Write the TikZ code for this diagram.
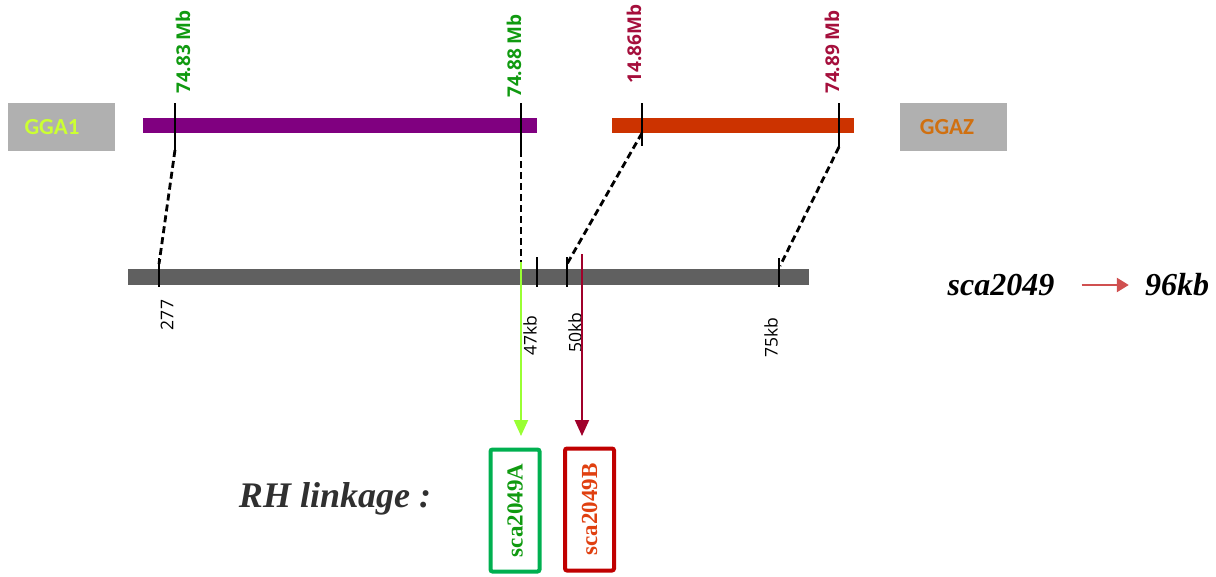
\documentclass[tikz,border=0pt]{standalone}
\usepackage{fontspec}
\setmainfont{Liberation Serif}
\newfontfamily\osans{Open Sans}
\newfontfamily\carl{Carlito}
\usetikzlibrary{arrows.meta}
\definecolor{gbox}{HTML}{B0B0B0}
\definecolor{ggaone}{HTML}{CCFF33}
\definecolor{ggaz}{HTML}{D07010}
\definecolor{purp}{HTML}{800080}
\definecolor{orred}{HTML}{CC3300}
\definecolor{gbar}{HTML}{606060}
\definecolor{mbgreen}{HTML}{109A10}
\definecolor{mbred}{HTML}{A50F3C}
\definecolor{lgreen}{HTML}{99FF33}
\definecolor{dred}{HTML}{A0002A}
\definecolor{boxgreen}{HTML}{00B050}
\definecolor{boxred}{HTML}{C00000}
\definecolor{txtred}{HTML}{E04010}
\definecolor{arr}{HTML}{D05050}
\definecolor{rhgray}{HTML}{303030}
\tikzset{
  chrbox/.style={fill=gbox, minimum width=107pt, minimum height=48pt, inner sep=0pt},
  chrtext/.style={inner sep=0pt, font=\carl\bfseries\fontsize{23}{23}\selectfont},
  mblabel/.style={rotate=90, inner sep=0pt, font=\osans\bfseries\fontsize{19}{19}\selectfont},
  kblabel/.style={rotate=90, inner sep=0pt, font=\osans\fontsize{17.5}{17.5}\selectfont},
  tickline/.style={line width=1.6pt, black},
  dashline/.style={line width=2.8pt, black, dash pattern=on 7pt off 4pt},
  rhbox/.style={line width=4pt, rounded corners=2pt, minimum width=49pt, minimum height=122pt, inner sep=0pt},
  rhtext/.style={rotate=90, font=\bfseries\fontsize{23}{23}\selectfont},
  bigit/.style={font=\bfseries\itshape\fontsize{32}{32}\selectfont, inner sep=0pt}
}
\begin{document}
\begin{tikzpicture}[x=1pt, y=-1pt]
\useasboundingbox (0,0) rectangle (1216,576);
% chromosome boxes
\node[chrbox] (gga1) at (61.5,127) {};
\node[chrtext, text=ggaone] (gga1t) at (52,127) {GGA1};
\node[chrbox] (ggaz) at (953.5,127) {};
\node[chrtext, text=ggaz] (ggazt) at (947,127) {GGAZ};
% bars
\fill[purp] (143,118) rectangle (537,133);
\fill[orred] (612,118) rectangle (854,133);
\fill[gbar] (128,269) rectangle (809,285);
% top ticks
\coordinate (t1a) at (175,103); \coordinate (t1b) at (175,150);
\coordinate (t2a) at (521,103); \coordinate (t2b) at (521,150);
\coordinate (t3a) at (642,103); \coordinate (t3b) at (642,146);
\coordinate (t4a) at (839,103); \coordinate (t4b) at (839,147);
\draw[tickline] (t1a) -- (t1b);
\draw[tickline] (t2a) -- (t2b);
\draw[tickline] (t3a) -- (t3b);
\draw[tickline] (t4a) -- (t4b);
% bottom ticks
\coordinate (b1a) at (159,258); \coordinate (b1b) at (159,287);
\coordinate (b2a) at (537,257); \coordinate (b2b) at (537,287);
\coordinate (b3a) at (567,257); \coordinate (b3b) at (567,287);
\coordinate (b4a) at (779,258); \coordinate (b4b) at (779,287);
\draw[tickline] (b1a) -- (b1b);
\draw[tickline] (b2a) -- (b2b);
\draw[tickline] (b3a) -- (b3b);
\draw[tickline] (b4a) -- (b4b);
% dashed links
\coordinate (d3) at (642,133);
\coordinate (e1) at (159,264);
\coordinate (e2) at (521,262);
\coordinate (e3) at (567,264);
\coordinate (e4) at (780,266);
\draw[dashline] (t1b) -- (e1);
\draw[dashline] (t2b) -- (e2);
\draw[dashline] (d3) -- (e3);
\draw[dashline] (t4b) -- (e4);
% Mb labels
\node[mblabel, text=mbgreen] (l1) at (183,52) {74.83 Mb};
\node[mblabel, text=mbgreen] (l2) at (514,56) {74.88 Mb};
\node[mblabel, text=mbred] (l3) at (634,44) {14.86Mb};
\node[mblabel, text=mbred] (l4) at (832,52) {74.89 Mb};
% kb labels
\node[kblabel] (k1) at (167,315) {277};
\node[kblabel] (k2) at (530,336) {47kb};
\node[kblabel] (k3) at (575,333) {50kb};
\node[kblabel] (k4) at (771,338) {75kb};
% RH boxes
\node[rhbox, draw=boxgreen] (ba) at (515,510.5) {};
\node[rhtext, text=mbgreen] (ta) at (ba.center) {sca2049A};
\node[rhbox, draw=boxred] (bb) at (589.5,509.5) {};
\node[rhtext, text=txtred] (tb) at (bb.center) {sca2049B};
% arrows
\coordinate (ga) at (521,262);
\coordinate (ra) at (582,254);
\coordinate (gt) at (521,436);
\coordinate (rt) at (582,436);
\draw[lgreen, line width=2pt, -{Triangle[length=16pt, width=14pt]}] (ga) -- (gt);
\draw[dred, line width=2pt, -{Triangle[length=16pt, width=14pt]}] (ra) -- (rt);
% RH linkage
\node[bigit, text=rhgray, font=\bfseries\itshape\fontsize{36}{36}\selectfont] (rh) at (335,499) {RH linkage :};
% sca2049 -> 96kb
\node[bigit] (sca) at (1001,285) {sca2049};
\node[bigit] (kb) at (1177,285) {96kb};
\draw[arr, line width=2.5pt, -{Triangle[length=12pt, width=14pt]}, shorten <=27pt, shorten >=16pt] (sca.east) -- (kb.west);
\end{tikzpicture}
\end{document}
